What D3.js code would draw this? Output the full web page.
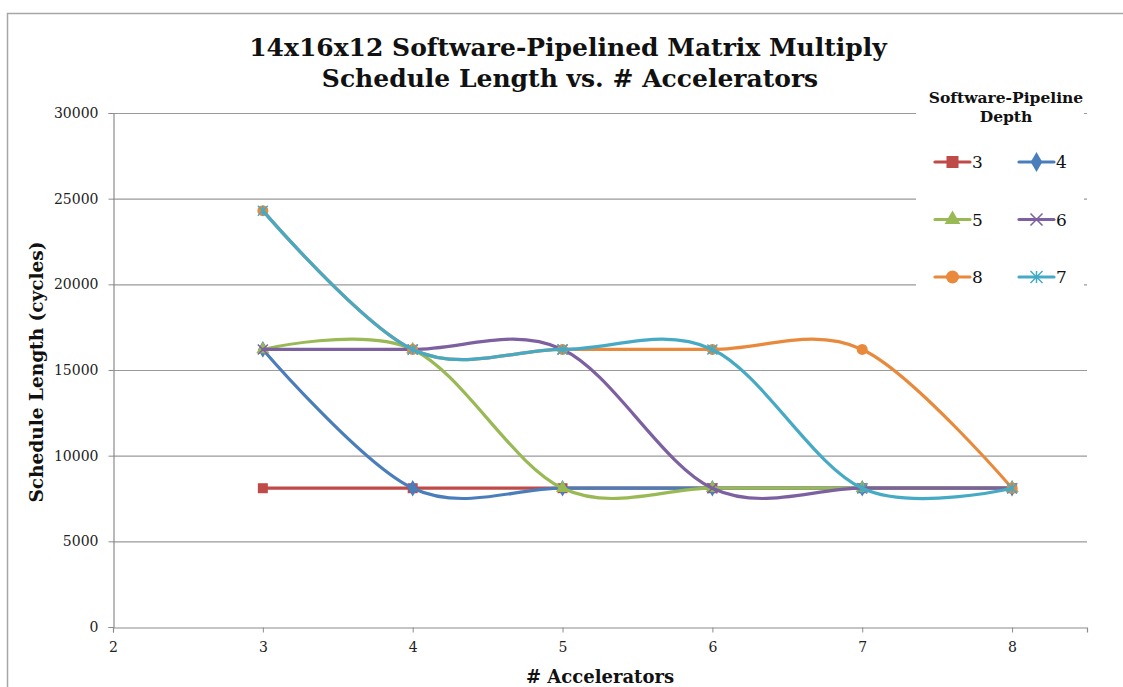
<!DOCTYPE html>
<html>
<head>
<meta charset="utf-8">
<script src="https://cdn.jsdelivr.net/npm/d3@7"></script>
<style>
  body { margin: 0; background: #fff; }
  text { font-family: "DejaVu Serif", "Liberation Serif", serif; }
</style>
</head>
<body>
<div id="chart"></div>
<script>
// data
var accelerators = [3, 4, 5, 6, 7, 8];
var depths = ["3", "4", "5", "6", "8", "7"];
var len3 = [8100, 8100, 8100, 8100, 8100, 8100];
var len4 = [16200, 8100, 8100, 8100, 8100, 8100];
var len5 = [16200, 16200, 8100, 8100, 8100, 8100];
var len6 = [16200, 16200, 16200, 8100, 8100, 8100];
var len8 = [24300, 16200, 16200, 16200, 16200, 8100];
var len7 = [24300, 16200, 16200, 16200, 8100, 8100];
var xTicks = [2, 3, 4, 5, 6, 7, 8];
var yTicks = [0, 5000, 10000, 15000, 20000, 25000, 30000];

var seriesValues = [len3, len4, len5, len6, len8, len7];
var colors = ["#BE4B48", "#4A7EBB", "#98B954", "#7D60A0", "#E8893B", "#46AAC5"];
var symbols = ["square", "diamond", "triangle", "cross", "circle", "star"];

var width = 1123, height = 687;
var svg = d3.select("#chart").append("svg")
    .attr("width", width)
    .attr("height", height);

// chart border (only top and left visible)
svg.append("path")
    .attr("d", "M7.5,687 L7.5,13.5 L1123,13.5")
    .attr("fill", "none")
    .attr("stroke", "#a6a6a6")
    .attr("stroke-width", 1.5);

var x = d3.scaleLinear().domain([2, 8.5]).range([113, 1087]);
var y = d3.scaleLinear().domain([0, 30000]).range([627, 113]);

// gridlines
svg.append("g")
    .selectAll("line")
    .data(yTicks.slice(1))
    .join("line")
    .attr("x1", x(2)).attr("x2", x(8.5))
    .attr("y1", d => y(d) + 0.5).attr("y2", d => y(d) + 0.5)
    .attr("stroke", "#9a9a9a")
    .attr("stroke-width", 1.2);

// y axis
var yAxis = svg.append("g")
    .attr("transform", "translate(" + (x(2) + 0.5) + ",0)")
    .call(d3.axisLeft(y).tickValues(yTicks).tickSize(5).tickPadding(10).tickFormat(d3.format("d")));
yAxis.select(".domain").attr("stroke", "#8c8c8c").attr("stroke-width", 1.2);
yAxis.selectAll(".tick line").attr("stroke", "#8c8c8c");
yAxis.selectAll(".tick text")
    .attr("font-family", "DejaVu Serif")
    .attr("font-size", 14)
    .attr("fill", "#222");

// x axis
var xAxis = svg.append("g")
    .attr("transform", "translate(0," + (y(0) + 0.5) + ")")
    .call(d3.axisBottom(x).tickValues(xTicks).tickSize(5).tickPadding(10).tickFormat(d3.format("d")));
xAxis.select(".domain").attr("stroke", "#8c8c8c").attr("stroke-width", 1.2);
xAxis.selectAll(".tick text")
    .attr("font-family", "DejaVu Serif")
    .attr("font-size", 14)
    .attr("fill", "#222");
xAxis.selectAll(".tick line").attr("stroke", "#8c8c8c");

// titles
var title = svg.append("text")
    .attr("text-anchor", "middle")
    .attr("font-weight", "bold")
    .attr("font-size", 25)
    .attr("fill", "#111");
title.append("tspan").attr("x", 568).attr("y", 56).text("14x16x12 Software-Pipelined Matrix Multiply");
title.append("tspan").attr("x", 570).attr("y", 87).text("Schedule Length vs. # Accelerators");

svg.append("text")
    .attr("x", 600)
    .attr("y", 683)
    .attr("text-anchor", "middle")
    .attr("font-weight", "bold")
    .attr("font-size", 18)
    .attr("fill", "#111")
    .text("# Accelerators");

svg.append("text")
    .attr("transform", "translate(43,372) rotate(-90)")
    .attr("text-anchor", "middle")
    .attr("font-weight", "bold")
    .attr("font-size", 18.5)
    .attr("fill", "#111")
    .text("Schedule Length (cycles)");

// marker drawing
function drawMarker(g, type, color, size) {
    var s = size;
    if (type === "square") {
        g.append("rect").attr("x", -s / 2).attr("y", -s / 2).attr("width", s).attr("height", s).attr("fill", color);
    } else if (type === "diamond") {
        g.append("path").attr("d", d3.symbol(d3.symbolDiamond, s * s * 0.8)()).attr("fill", color);
    } else if (type === "triangle") {
        g.append("path").attr("d", d3.symbol(d3.symbolTriangle, s * s * 0.75)()).attr("fill", color);
    } else if (type === "circle") {
        g.append("circle").attr("r", s / 2 + 0.5).attr("fill", color);
    } else if (type === "cross") {
        var h = s / 2;
        g.append("path").attr("d", "M" + (-h) + "," + (-h) + "L" + h + "," + h + "M" + (-h) + "," + h + "L" + h + "," + (-h))
            .attr("stroke", color).attr("stroke-width", 1.5).attr("fill", "none");
    } else if (type === "star") {
        var k = s / 2;
        g.append("path").attr("d", "M" + (-k) + "," + (-k) + "L" + k + "," + k + "M" + (-k) + "," + k + "L" + k + "," + (-k) +
            "M0," + (-k) + "L0," + k)
            .attr("stroke", color).attr("stroke-width", 1.5).attr("fill", "none");
    }
}

var line = d3.line()
    .x(d => x(d[0]))
    .y(d => y(d[1]))
    .curve(d3.curveCardinal.tension(0));

var plot = svg.append("g");
seriesValues.forEach(function (vals, i) {
    var pts = accelerators.map((a, j) => [a, vals[j]]);
    var g = plot.append("g");
    g.append("path")
        .datum(pts)
        .attr("d", line)
        .attr("fill", "none")
        .attr("stroke", colors[i])
        .attr("stroke-width", 3.2)
        .attr("stroke-linecap", "round");
    pts.forEach(function (p) {
        var m = g.append("g").attr("transform", "translate(" + x(p[0]) + "," + y(p[1]) + ")");
        drawMarker(m, symbols[i], colors[i], 10);
    });
});

// legend
var legend = svg.append("g");
legend.append("rect")
    .attr("x", 916).attr("y", 84).attr("width", 168).attr("height", 208)
    .attr("fill", "#fff");
var lt = legend.append("text")
    .attr("text-anchor", "middle")
    .attr("font-weight", "bold")
    .attr("font-size", 15.5)
    .attr("fill", "#111");
lt.append("tspan").attr("x", 1006).attr("y", 103).text("Software-Pipeline");
lt.append("tspan").attr("x", 1006).attr("y", 122).text("Depth");

depths.forEach(function (d, i) {
    var col = i % 2, row = Math.floor(i / 2);
    var lx = 935 + col * 84, ly = 162 + row * 57.5;
    var item = legend.append("g").attr("transform", "translate(" + lx + "," + ly + ")");
    item.append("line")
        .attr("x1", 0).attr("x2", 35).attr("y1", 0).attr("y2", 0)
        .attr("stroke", colors[i]).attr("stroke-width", 3.2).attr("stroke-linecap", "round");
    drawMarker(item.append("g").attr("transform", "translate(17.5,0)"), symbols[i], colors[i], 12);
    item.append("text")
        .attr("x", 37).attr("y", 6)
        .attr("font-size", 17)
        .attr("fill", "#111")
        .text(d);
});
</script>
</body>
</html>
